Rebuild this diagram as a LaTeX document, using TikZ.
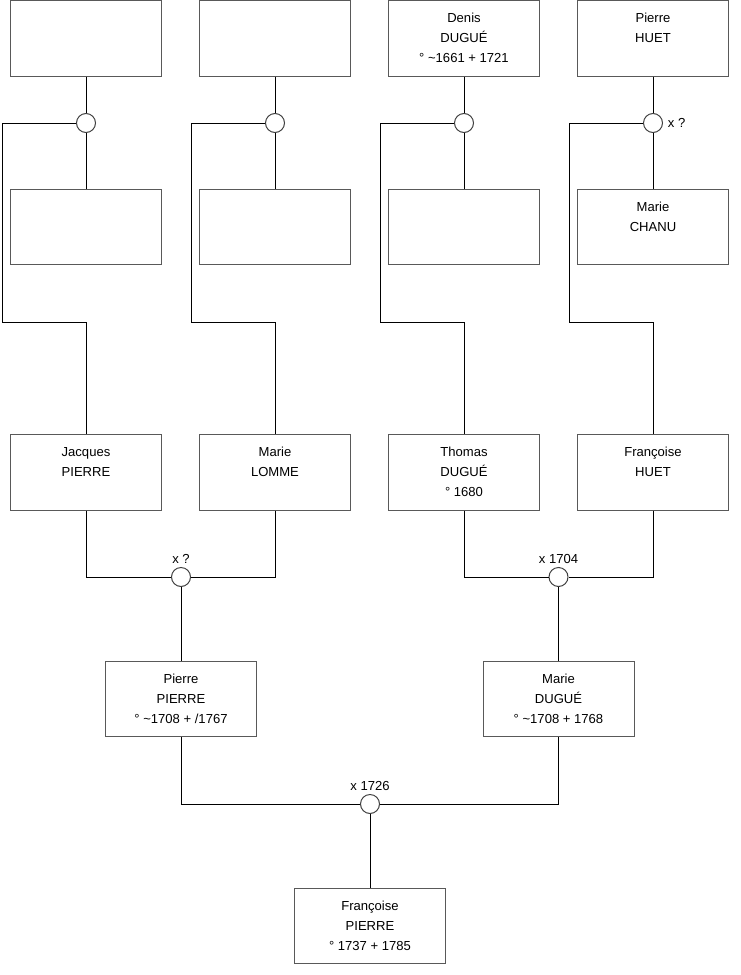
\documentclass[tikz,border=0pt]{standalone}
\usepackage{fontspec}
\setmainfont{Liberation Sans}
\usetikzlibrary{positioning}

\begin{document}
\begin{tikzpicture}[x=0.75pt, y=-0.75pt,
    person/.style={rectangle, draw=black!65, fill=white, minimum width=113.25pt, minimum height=56.5pt, align=center, font=\fontsize{9.8}{15}\selectfont, inner sep=0pt, line width=0.75pt},
    union/.style={circle, draw=black!75, fill=white, minimum size=14.25pt, inner sep=0pt, line width=0.75pt},
    link/.style={draw=black, line width=0.75pt},
    lbl/.style={font=\fontsize{9.8}{11}\selectfont, inner sep=1.5pt},
]
    \useasboundingbox (0,0) rectangle (740,975);

    % top generation
    \node[person] (u1) at (86,38.5) {};
    \node[person] (u2) at (275,38.5) {};
    \node[person] (dd) at (464,38.5) {\strut Denis\\\strut DUGUÉ\\\strut° \textasciitilde1661 + 1721};
    \node[person] (ph) at (653,38.5) {\strut Pierre\\\strut HUET\\\strut};

    \node[union] (m1) at (86,123) {};
    \node[union] (m2) at (275,123) {};
    \node[union] (m3) at (464,123) {};
    \node[union] (m4) at (653,123) {};
    \node[lbl, right=2pt of m4] {x ?};

    \node[person] (u3) at (86,227) {};
    \node[person] (u4) at (275,227) {};
    \node[person] (u5) at (464,227) {};
    \node[person] (mc) at (653,227) {\strut Marie\\\strut CHANU\\\strut};

    \coordinate (e1) at (2,322);
    \coordinate (e2) at (191,322);
    \coordinate (e3) at (380,322);
    \coordinate (e4) at (569,322);

    % parents
    \node[person] (jp) at (86,472.5) {\strut Jacques\\\strut PIERRE\\\strut};
    \node[person] (ml) at (275,472.5) {\strut Marie\\\strut LOMME\\\strut};
    \node[person] (td) at (464,472.5) {\strut Thomas\\\strut DUGUÉ\\\strut° 1680};
    \node[person] (fh) at (653,472.5) {\strut Françoise\\\strut HUET\\\strut};

    \node[union] (m5) at (181,577) {};
    \node[union] (m6) at (558.5,577) {};
    \node[lbl, above=1pt of m5] {x ?};
    \node[lbl, above=1pt of m6] {x 1704};

    \node[person] (pp) at (181,699) {\strut Pierre\\\strut PIERRE\\\strut° \textasciitilde1708 + /1767};
    \node[person] (md) at (558.5,699) {\strut Marie\\\strut DUGUÉ\\\strut° \textasciitilde1708 + 1768};

    \node[union] (m7) at (370,804) {};
    \node[lbl, above=1pt of m7] {x 1726};

    \node[person] (fp) at (370,926) {\strut Françoise\\\strut PIERRE\\\strut° 1737 + 1785};

    \draw[link] (u1) -- (m1) -- (u3);
    \draw[link] (u2) -- (m2) -- (u4);
    \draw[link] (dd) -- (m3) -- (u5);
    \draw[link] (ph) -- (m4) -- (mc);
    \draw[link] (m1.west) -| (e1) -| (jp.north);
    \draw[link] (m2.west) -| (e2) -| (ml.north);
    \draw[link] (m3.west) -| (e3) -| (td.north);
    \draw[link] (m4.west) -| (e4) -| (fh.north);

    \draw[link] (jp.south) |- (m5.west);
    \draw[link] (ml.south) |- (m5.east);
    \draw[link] (td.south) |- (m6.west);
    \draw[link] (fh.south) |- (m6.east);
    \draw[link] (m5) -- (pp);
    \draw[link] (m6) -- (md);

    \draw[link] (pp.south) |- (m7.west);
    \draw[link] (md.south) |- (m7.east);
    \draw[link] (m7) -- (fp);
\end{tikzpicture}
\end{document}
